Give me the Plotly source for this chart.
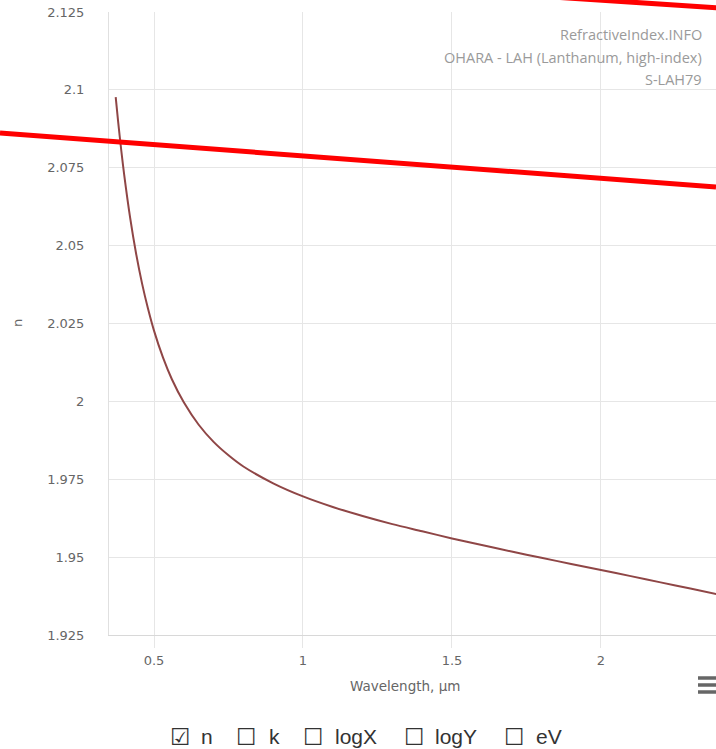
import plotly.graph_objects as go

# Data (wavelength in µm, refractive index n)
wavelength = [0.3715, 0.38, 0.39, 0.40, 0.42, 0.44, 0.46, 0.48, 0.50, 0.53,
              0.56, 0.60, 0.65, 0.70, 0.75, 0.80, 0.90, 1.00, 1.10, 1.20,
              1.30, 1.40, 1.50, 1.60, 1.70, 1.80, 1.90, 2.00, 2.10, 2.20,
              2.30, 2.40]
n_values = [2.0977, 2.0895, 2.0807, 2.0727, 2.0589, 2.0474, 2.0378, 2.0297, 2.0227, 2.0141,
            2.0071, 1.9997, 1.9925, 1.9870, 1.9827, 1.9791, 1.9737, 1.9695, 1.9661, 1.9632,
            1.9606, 1.9583, 1.9560, 1.9539, 1.9518, 1.9498, 1.9478, 1.9459, 1.9439, 1.9419,
            1.9399, 1.9379]

x_ticks = [0.5, 1, 1.5, 2]
x_tick_text = ["0.5", "1", "1.5", "2"]
y_ticks = [1.925, 1.95, 1.975, 2, 2.025, 2.05, 2.075, 2.1, 2.125]
y_tick_text = ["1.925", "1.95", "1.975", "2", "2.025", "2.05", "2.075", "2.1", "2.125"]

credit_lines = ["RefractiveIndex.INFO", "OHARA - LAH (Lanthanum, high-index)", "S-LAH79"]
checkbox_items = [("☑", "n"), ("☐", "k"), ("☐", "logX"), ("☐", "logY"), ("☐", "eV")]

W, H = 716, 749
L, R, T, B = 109, 0, 12, 114
pw = W - L - R
ph = H - T - B


def px(x):
    return (x - L) / pw


def py(y):
    return (H - B - y) / ph


fig = go.Figure()
fig.add_trace(go.Scatter(
    x=wavelength, y=n_values, mode="lines",
    line=dict(color="#8f4646", width=2, shape="spline", smoothing=0.8),
    hoverinfo="x+y", showlegend=False,
))

tick_font = dict(family="DejaVu Sans", size=13, color="#666666")

fig.update_layout(
    width=W, height=H,
    margin=dict(l=L, r=R, t=T, b=B, pad=0),
    paper_bgcolor="white", plot_bgcolor="white",
    xaxis=dict(
        range=[0.349, 2.386], tickvals=x_ticks, ticktext=x_tick_text,
        showgrid=True, gridcolor="#e6e6e6", gridwidth=1,
        ticks="outside", ticklen=12, tickcolor="#e6e6e6", tickwidth=1,
        showline=True, linecolor="#d8d8d8", linewidth=1,
        zeroline=False, tickfont=tick_font, ticklabelstandoff=1,
    ),
    yaxis=dict(
        range=[1.925, 2.125], tickvals=y_ticks, ticktext=y_tick_text,
        showgrid=True, gridcolor="#e6e6e6", gridwidth=1,
        ticks="", showline=True, linecolor="#e0e0e0", linewidth=1,
        zeroline=False, tickfont=tick_font, ticklabelstandoff=21,
    ),
)

annotations = []
# credits block
for i, line in enumerate(credit_lines):
    annotations.append(dict(
        xref="paper", yref="paper", x=px(704), y=py(35 + 22.5 * i),
        xanchor="right", yanchor="middle", text=line, showarrow=False,
        font=dict(family="Open Sans", size=14.5, color="#9a9a9a"),
    ))
# axis titles
annotations.append(dict(
    xref="paper", yref="paper", x=px(405), y=py(686), xanchor="center", yanchor="middle",
    text="Wavelength, µm", showarrow=False,
    font=dict(family="DejaVu Sans", size=13.5, color="#666666"),
))
annotations.append(dict(
    xref="paper", yref="paper", x=px(18), y=py(323), xanchor="center", yanchor="middle",
    text="n", textangle=-90, showarrow=False,
    font=dict(family="DejaVu Sans", size=13, color="#666666"),
))
# checkbox row
box_x = [180, 246, 313, 414, 514]
label_x = [199, 267, 333, 433, 534]
for (box, label), bx, lx in zip(checkbox_items, box_x, label_x):
    annotations.append(dict(
        xref="paper", yref="paper", x=px(bx), y=py(737), xanchor="center", yanchor="middle",
        text=box, showarrow=False,
        font=dict(family="DejaVu Sans", size=23, color="#333333"),
    ))
    annotations.append(dict(
        xref="paper", yref="paper", x=px(lx), y=py(737), xanchor="left", yanchor="middle",
        text=label, showarrow=False,
        font=dict(family="Liberation Sans", size=21, color="#333333"),
    ))
fig.update_layout(annotations=annotations)

shapes = []
# red overlay strokes
shapes.append(dict(type="line", xref="paper", yref="paper",
                   x0=px(0), y0=py(133), x1=px(716), y1=py(187),
                   line=dict(color="#ff0000", width=5), layer="above"))
shapes.append(dict(type="line", xref="paper", yref="paper",
                   x0=px(500), y0=py(-6.4), x1=px(720), y1=py(7.9),
                   line=dict(color="#ff0000", width=5), layer="above"))
# hamburger menu icon
for yy in [678, 685, 692]:
    shapes.append(dict(type="line", xref="paper", yref="paper",
                       x0=px(698), y0=py(yy), x1=px(716), y1=py(yy),
                       line=dict(color="#666666", width=3.5)))
fig.update_layout(shapes=shapes)

fig.write_html("out.html", config={"displayModeBar": False})
